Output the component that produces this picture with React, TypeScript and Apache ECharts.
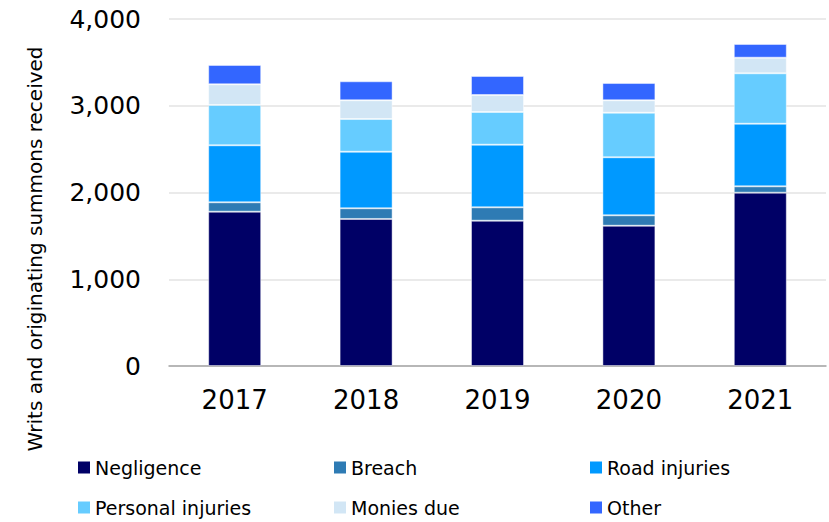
import React, { useEffect, useRef } from "react";
import * as echarts from "echarts";

const years = ["2017", "2018", "2019", "2020", "2021"];
const negligence = [1779, 1695, 1675, 1617, 1998];
const breach = [108, 123, 154, 120, 73];
const roadInjuries = [657, 652, 722, 669, 722];
const personalInjuries = [465, 377, 377, 514, 581];
const moniesDue = [238, 216, 196, 143, 180];
const other = [223, 219, 219, 199, 158];

const seriesDefs = [
  { name: "Negligence", data: negligence, color: "#000066" },
  { name: "Breach", data: breach, color: "#2E7BB4" },
  { name: "Road injuries", data: roadInjuries, color: "#0099FF" },
  { name: "Personal injuries", data: personalInjuries, color: "#66CCFF" },
  { name: "Monies due", data: moniesDue, color: "#D2E6F5" },
  { name: "Other", data: other, color: "#3366FF" },
];

const FONT = "'DejaVu Sans', sans-serif";

export default function App() {
  const ref = useRef<HTMLDivElement>(null);
  useEffect(() => {
    if (!ref.current) return;
    const chart = echarts.init(ref.current, null, { renderer: "svg" });
    const legendBase = {
      icon: "rect",
      itemWidth: 12,
      itemHeight: 12,
      itemGap: 21,
      itemStyle: { borderWidth: 0 },
      orient: "vertical" as const,
      textStyle: { fontFamily: FONT, fontSize: 19, color: "#000", padding: [0, 0, 0, 0] },
      selectedMode: false,
      padding: 0,
      top: 458,
      height: 64,
    };
    chart.setOption({
      animation: false,
      textStyle: { fontFamily: FONT },
      grid: { left: 169, right: 3, top: 19, bottom: 156, containLabel: false },
      legend: [
        { ...legendBase, left: 78, data: ["Negligence", "Personal injuries"] },
        { ...legendBase, left: 334, data: ["Breach", "Monies due"] },
        { ...legendBase, left: 590, data: ["Road injuries", "Other"] },
      ],
      xAxis: {
        type: "category",
        data: years,
        axisLine: { lineStyle: { color: "#A6A6A6", width: 1.5 } },
        axisTick: { alignWithLabel: true, length: 6, lineStyle: { color: "#A6A6A6" } },
        axisLabel: { fontFamily: FONT, fontSize: 26, color: "#000", margin: 21 },
      },
      yAxis: {
        type: "value",
        min: 0,
        max: 4000,
        interval: 1000,
        axisLine: { show: false },
        axisTick: { show: false },
        splitLine: { lineStyle: { color: "#E3E3E3", width: 1.5 } },
        axisLabel: {
          fontFamily: FONT,
          fontSize: 25,
          color: "#000",
          margin: 28,
          formatter: (v: number) => v.toLocaleString("en-US"),
        },
      },
      graphic: [
        {
          type: "text",
          x: 35,
          y: 249,
          rotation: Math.PI / 2,
          style: {
            text: "Writs and originating summons received",
            fontFamily: FONT,
            fontSize: 20,
            fill: "#000",
            align: "center",
            verticalAlign: "middle",
          },
        },
      ],
      series: seriesDefs.map((s) => ({
        name: s.name,
        type: "bar",
        stack: "total",
        data: s.data,
        barWidth: 53,
        itemStyle: { color: s.color, borderColor: "rgba(255,255,255,0.45)", borderWidth: 1 },
      })),
    });
    return () => chart.dispose();
  }, []);
  return <div ref={ref} style={{ width: 829, height: 522, position: "absolute", left: 0, top: 0 }} />;
}
